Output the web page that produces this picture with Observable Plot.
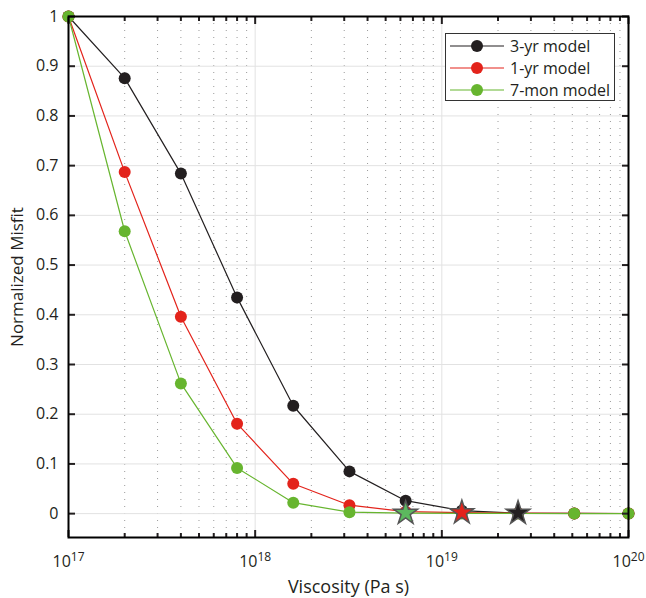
<!DOCTYPE html>
<html><head><meta charset="utf-8">
<script src="https://cdn.jsdelivr.net/npm/d3@7"></script>
<script src="https://cdn.jsdelivr.net/npm/@observablehq/plot@0.6"></script>
<style>
body{margin:0;background:#fff;font-family:"Open Sans",sans-serif;}
#wrap{position:relative;width:646px;height:598px;}
#legend{position:absolute;left:445px;top:33px;width:168px;height:66px;border:1px solid #333;background:#fff;font-size:16px;color:#231f20;}
.li{position:absolute;left:0;height:22px;width:168px;}
.li svg{position:absolute;left:4px;top:0;}
.li span{position:absolute;left:64px;top:0;line-height:22px;}
</style></head>
<body><div id="wrap"><div id="legend"></div></div>
<script>
const viscosity = [1e17, 2e17, 4e17, 8e17, 1.6e18, 3.2e18, 6.4e18, 1.28e19, 2.56e19, 5.12e19, 1e20];
const misfit3yr  = [1, 0.876, 0.684, 0.435, 0.217, 0.085, 0.026, 0.006, 0.001, 0.0005, 0.0003];
const misfit1yr  = [1, 0.687, 0.396, 0.181, 0.060, 0.017, 0.004, 0.002, 0.001, 0.0005, 0.0003];
const misfit7mon = [1, 0.568, 0.262, 0.092, 0.022, 0.003, 0.001, 0.0005, 0.0003, 0.0002, 0.0001];
const seriesNames = ["3-yr model", "1-yr model", "7-mon model"];
const seriesColors = ["#231f20", "#e3231b", "#67b52f"];
const starColors = ["#231f20", "#e3231b", "#5cb85e"];
const bestIndex = [8, 7, 6];
const yTicks = [0, 0.1, 0.2, 0.3, 0.4, 0.5, 0.6, 0.7, 0.8, 0.9, 1];
const xMajorTicks = [1e17, 1e18, 1e19, 1e20];
const xMinorTicks = [17, 18, 19].flatMap(e => [2,3,4,5,6,7,8,9].map(m => m * 10 ** e));

const seriesValues = [misfit3yr, misfit1yr, misfit7mon];
const rows = seriesValues.flatMap((vals, s) => vals.map((v, i) => ({x: viscosity[i], y: v, series: seriesNames[s], s, best: i === bestIndex[s]})));

const font = "Open Sans";
const chart = Plot.plot({
  width: 646, height: 598,
  marginTop: 16, marginBottom: 61, marginLeft: 68, marginRight: 18,
  style: {fontFamily: font, fontSize: "16px", color: "#231f20", background: "white"},
  x: {type: "log", domain: [1e17, 1e20]},
  y: {domain: [-0.048, 1]},
  color: {domain: seriesNames, range: seriesColors},
  marks: [
    Plot.gridX(xMinorTicks, {stroke: "#9a9a9a", strokeOpacity: 1, strokeDasharray: "1,6"}),
    Plot.gridX(xMajorTicks, {stroke: "#e2e2e2", strokeOpacity: 1}),
    Plot.gridY(yTicks, {stroke: "#e2e2e2", strokeOpacity: 1}),
    Plot.line(rows, {x: "x", y: "y", z: "series", stroke: "series", strokeWidth: 1.2}),
    Plot.dot(rows.filter(d => !d.best), {x: "x", y: "y", fill: "series", r: 6}),
    Plot.dot(rows.filter(d => d.best), {x: "x", y: "y", symbol: "star", r: 7.5, fill: d => starColors[d.s], stroke: "#555", strokeWidth: 1.5}),
    Plot.axisX({anchor: "bottom", ticks: xMajorTicks, tickSize: -7, tickFormat: () => "", strokeWidth: 2, label: null}),
    Plot.axisX({anchor: "top", ticks: xMajorTicks, tickSize: -7, tickFormat: () => "", strokeWidth: 2, label: null}),
    Plot.axisX({anchor: "bottom", ticks: xMinorTicks, tickSize: -4, tickFormat: () => "", strokeWidth: 2, label: null}),
    Plot.axisX({anchor: "top", ticks: xMinorTicks, tickSize: -4, tickFormat: () => "", strokeWidth: 2, label: null}),
    Plot.axisY({anchor: "left", ticks: yTicks, tickSize: -7, tickFormat: () => "", strokeWidth: 2, label: null}),
    Plot.axisY({anchor: "right", ticks: yTicks, tickSize: -7, tickFormat: () => "", strokeWidth: 2, label: null}),
    Plot.axisX({anchor: "bottom", ticks: xMajorTicks, tickSize: 0, tickPadding: 18, tickFormat: d => "10^" + Math.round(Math.log10(d)), label: "Viscosity (Pa s)", labelAnchor: "center", labelOffset: 55, labelArrow: "none", fontSize: 16}),
    Plot.axisY({anchor: "left", ticks: yTicks, tickSize: 0, tickPadding: 10, tickFormat: d => String(d), label: "Normalized Misfit", labelAnchor: "center", labelOffset: 58, labelArrow: "none", fontSize: 16}),
    Plot.frame({stroke: "#000", strokeWidth: 2})
  ]
});
document.getElementById("wrap").prepend(chart);

const root = d3.select(chart);
root.selectAll('g[aria-label="x-axis label"]').attr("font-size", 18).selectAll("text").attr("font-size", 18);
root.selectAll('g[aria-label="y-axis label"]').attr("font-size", 17).selectAll("text").attr("font-size", 17);

// superscript exponents on x tick labels
root.selectAll('g[aria-label="x-axis tick label"] text').each(function() {
  const t = d3.select(this);
  const s = t.text();
  if (s.includes("^")) {
    const [b, e] = s.split("^");
    t.text(null);
    t.append("tspan").text(b);
    t.append("tspan").attr("dy", "-0.5em").attr("font-size", "12px").text(e);
  }
});

// legend
const legend = d3.select("#legend");
seriesNames.forEach((name, i) => {
  const item = legend.append("div").attr("class", "li").style("top", (1 + i * 22) + "px");
  const svg = item.append("svg").attr("width", 56).attr("height", 22);
  svg.append("line").attr("x1", 0).attr("x2", 54).attr("y1", 11).attr("y2", 11).attr("stroke", seriesColors[i]).attr("stroke-width", 1.2);
  svg.append("circle").attr("cx", 27).attr("cy", 11).attr("r", 6).attr("fill", seriesColors[i]);
  item.append("span").text(name);
});
</script></body></html>
